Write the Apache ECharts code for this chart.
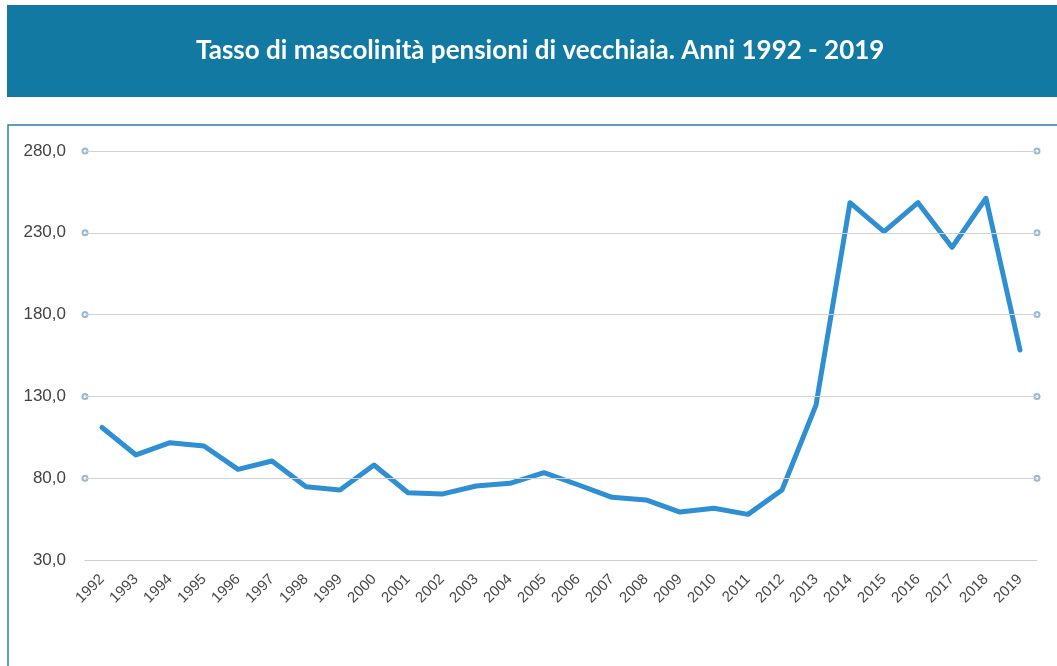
<!DOCTYPE html>
<html>
<head>
<meta charset="utf-8">
<style>
  html, body { margin: 0; padding: 0; background: #ffffff; }
  #chart { width: 1057px; height: 666px; }
</style>
<script src="https://cdn.jsdelivr.net/npm/echarts@6/dist/echarts.min.js"></script>
</head>
<body>
<div id="chart"></div>
<script>
// Anni
const years = ['1992','1993','1994','1995','1996','1997','1998','1999','2000','2001',
  '2002','2003','2004','2005','2006','2007','2008','2009','2010','2011',
  '2012','2013','2014','2015','2016','2017','2018','2019'];

// Tasso di mascolinità (pensioni di vecchiaia)
const tasso = [111.0, 94.2, 101.7, 99.7, 85.4, 90.5, 74.8, 72.8, 88.1, 71.1,
  70.3, 75.2, 76.9, 83.4, 76.0, 68.3, 66.7, 59.3, 61.6, 57.9,
  72.8, 124.7, 248.4, 230.7, 248.4, 221.1, 251.1, 158.4];

// Valori di riferimento dell'asse verticale
const yTicks = [30, 80, 130, 180, 230, 280];

const titleText = 'Tasso di mascolinità pensioni di vecchiaia. Anni 1992 - 2019';

const chart = echarts.init(document.getElementById('chart'), null, { renderer: 'canvas' });

const upperTicks = yTicks.filter(v => v > yTicks[0]);
const endDots = [];
upperTicks.forEach(v => { endDots.push([0, v]); endDots.push([1, v]); });

chart.setOption({
  animation: false,
  backgroundColor: '#ffffff',
  graphic: [
    {
      type: 'rect', z: 0,
      shape: { x: 7, y: 5, width: 1060, height: 92 },
      style: { fill: '#1279a3' }
    },
    {
      type: 'rect', z: 0,
      shape: { x: 8, y: 125, width: 1070, height: 600 },
      style: { fill: 'none', stroke: '#2a7fab', lineWidth: 1.5 }
    }
  ],
  title: {
    text: titleText,
    left: 191,
    top: 33,
    textStyle: {
      color: '#ffffff',
      fontFamily: 'Lato',
      fontWeight: 'bold',
      fontSize: 26
    }
  },
  grid: { left: 85, right: 20, top: 151, bottom: 106, containLabel: false },
  xAxis: [
    {
      type: 'category',
      data: years,
      boundaryGap: true,
      axisLine: { show: true, lineStyle: { color: '#cfcfcf', width: 1 } },
      axisTick: { show: false },
      axisLabel: {
        rotate: 45,
        margin: 17,
        interval: 0,
        color: '#4a4a4a',
        fontFamily: 'Liberation Sans',
        fontSize: 15
      },
      splitLine: { show: false }
    },
    {
      type: 'value',
      min: 0,
      max: 1,
      show: false
    }
  ],
  yAxis: {
    type: 'value',
    min: 30,
    max: 280,
    interval: 10,
    axisLine: { show: false },
    axisTick: { show: false },
    splitLine: { show: false },
    axisLabel: {
      margin: 19,
      color: '#444444',
      fontFamily: 'Liberation Sans',
      fontSize: 17,
      formatter: v => yTicks.indexOf(v) >= 0 ? v.toFixed(1).replace('.', ',') : ''
    }
  },
  series: [
    {
      type: 'scatter',
      xAxisIndex: 1,
      data: endDots,
      symbol: 'emptyCircle',
      symbolSize: 5,
      z: 1,
      silent: true,
      itemStyle: { color: '#7ea6c9', borderWidth: 1 },
      markLine: {
        silent: true,
        symbol: 'none',
        label: { show: false },
        lineStyle: { color: '#d2d2d2', type: 'solid', width: 1 },
        data: upperTicks.map(v => ({ yAxis: v }))
      }
    },
    {
      type: 'line',
      data: tasso,
      z: 3,
      showSymbol: false,
      symbol: 'none',
      lineStyle: { color: '#2f8fd3', width: 5, join: 'round', cap: 'round' },
      itemStyle: { color: '#2f8fd3' }
    }
  ]
});
</script>
</body>
</html>
